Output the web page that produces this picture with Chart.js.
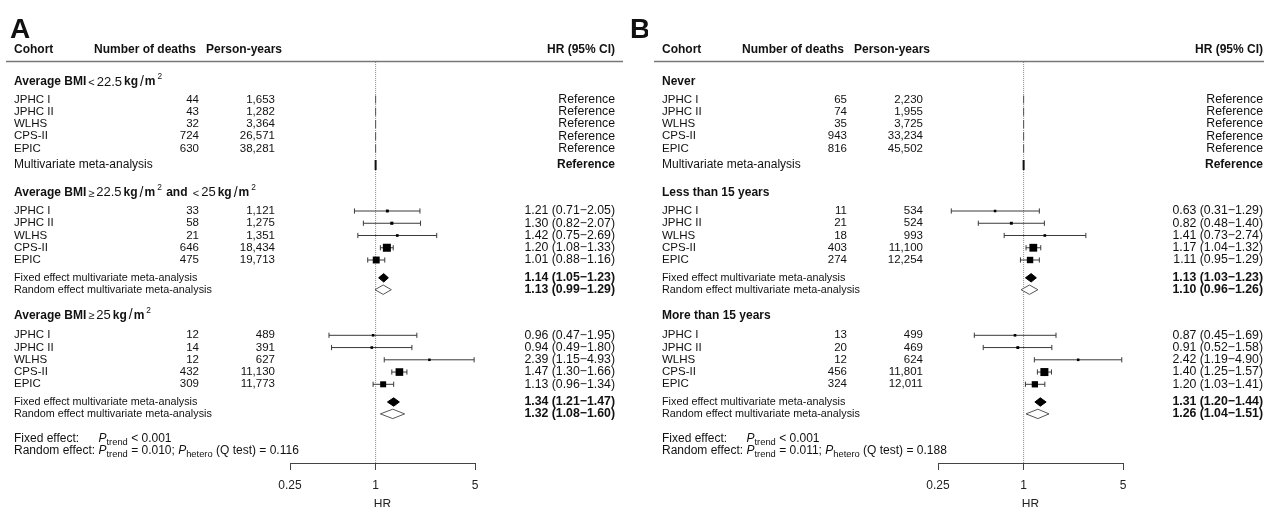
<!DOCTYPE html>
<html>
<head>
<meta charset="utf-8">
<title>Forest plot</title>
<script src="https://cdn.jsdelivr.net/npm/chart.js@4.4.1/dist/chart.umd.min.js"></script>
<style>
  html, body { margin: 0; padding: 0; background: #fff; }
  #wrap { position: relative; width: 1264px; height: 507px; overflow: hidden; }
  .panel { position: absolute; top: 0; width: 648px; height: 520px; }
  #panelA { left: 0; }
  #panelB { left: 648px; }
</style>
</head>
<body>
<div id="wrap">
  <div class="panel" id="panelA"><canvas id="forestA"></canvas></div>
  <div class="panel" id="panelB"><canvas id="forestB"></canvas></div>
</div>
<script>
// shared
const cohorts = ['JPHC I', 'JPHC II', 'WLHS', 'CPS-II', 'EPIC'];
const xTicks = [0.25, 1, 5];

// Panel A - average BMI
const headingsA = [
  [['Average BMI', 'b'], ['<', 'sym'], ['22.5', 'num'], ['kg', 'b'], ['/', 'sl'], ['m', 'b'], ['2', 'sup']],
  [['Average BMI', 'b'], ['\u2265', 'sym'], ['22.5', 'num'], ['kg', 'b'], ['/', 'sl'], ['m', 'b'], ['2', 'sup'],
   [' and ', 'b'], ['<', 'sym'], ['25', 'num'], ['kg', 'b'], ['/', 'sl'], ['m', 'b'], ['2', 'sup']],
  [['Average BMI', 'b'], ['\u2265', 'sym'], ['25', 'num'], ['kg', 'b'], ['/', 'sl'], ['m', 'b'], ['2', 'sup']]
];
const deathsA = [[44, 43, 32, 724, 630], [33, 58, 21, 646, 475], [12, 14, 12, 432, 309]];
const personYearsA = [[1653, 1282, 3364, 26571, 38281], [1121, 1275, 1351, 18434, 19713], [489, 391, 627, 11130, 11773]];
const hrA = [null, [1.21, 1.30, 1.42, 1.20, 1.01], [0.96, 0.94, 2.39, 1.47, 1.13]];
const lowerA = [null, [0.71, 0.82, 0.75, 1.08, 0.88], [0.47, 0.49, 1.15, 1.30, 0.96]];
const upperA = [null, [2.05, 2.07, 2.69, 1.33, 1.16], [1.95, 1.80, 4.93, 1.66, 1.34]];
const fixedA = [null, [1.14, 1.05, 1.23], [1.34, 1.21, 1.47]];
const randomA = [null, [1.13, 0.99, 1.29], [1.32, 1.08, 1.60]];
const pTrendRandomA = 0.010;
const pHeteroA = 0.116;

// Panel B - duration
const headingsB = [[['Never', 'b']], [['Less than 15 years', 'b']], [['More than 15 years', 'b']]];
const deathsB = [[65, 74, 35, 943, 816], [11, 21, 18, 403, 274], [13, 20, 12, 456, 324]];
const personYearsB = [[2230, 1955, 3725, 33234, 45502], [534, 524, 993, 11100, 12254], [499, 469, 624, 11801, 12011]];
const hrB = [null, [0.63, 0.82, 1.41, 1.17, 1.11], [0.87, 0.91, 2.42, 1.40, 1.20]];
const lowerB = [null, [0.31, 0.48, 0.73, 1.04, 0.95], [0.45, 0.52, 1.19, 1.25, 1.03]];
const upperB = [null, [1.29, 1.40, 2.74, 1.32, 1.29], [1.69, 1.58, 4.90, 1.57, 1.41]];
const fixedB = [null, [1.13, 1.03, 1.23], [1.31, 1.20, 1.44]];
const randomB = [null, [1.10, 0.96, 1.26], [1.26, 1.04, 1.51]];
const pTrendRandomB = 0.011;
const pHeteroB = 0.188;

const FONT = '"Liberation Sans", Arial, Helvetica, sans-serif';
const TOP = 62, AXIS = 463, CANVAS_H = 520;

// vertical layout of the rows (in px below the header rule)
function rowLayout() {
  const heading = [], cohort = [], summary = [];
  const toCohort = [17.5, 18.3, 20], toSummary = [16.5, 17.8, 17.7], toNext = [27.7, 25.6];
  let y = 82;
  for (let g = 0; g < 3; g++) {
    heading.push(y);
    y += toCohort[g];
    const c = [];
    for (let i = 0; i < cohorts.length; i++) {
      c.push(y);
      if (i < cohorts.length - 1) y += 12.25;
    }
    cohort.push(c);
    y += toSummary[g];
    const s = [y];
    if (g > 0) { y += 11.9; s.push(y); }
    summary.push(s);
    if (g < 2) y += toNext[g];
  }
  const note = [y + 24.3, y + 36.7];
  const v = a => a - TOP;
  return {
    heading: heading.map(v),
    cohort: cohort.map(c => c.map(v)),
    summary: summary.map(s => s.map(v)),
    note: note.map(v)
  };
}

const fmt2 = v => v.toFixed(2);
const hrText = (hr, lo, hi) => `${fmt2(hr)} (${fmt2(lo)}\u2212${fmt2(hi)})`;

function drawRich(ctx, segs, x, y, size, gap) {
  for (const [t, s] of segs) {
    let f = `${size}px ${FONT}`, dy = 0;
    if (s === 'b') f = `bold ${size}px ${FONT}`;
    if (s === 'i') f = `italic ${size}px ${FONT}`;
    if (s === 'num') f = `${size + 1}px ${FONT}`;
    if (s === 'sym') { f = `${size - 1}px ${FONT}`; dy = 1; }
    if (s === 'sl') f = `${size + 2}px ${FONT}`;
    if (s === 'sup') { f = `${size * 0.7}px ${FONT}`; dy = -5; }
    if (s === 'sub') { f = `${size * 0.78}px ${FONT}`; dy = 4; }
    ctx.font = f;
    ctx.fillText(t, x, y + dy);
    x += ctx.measureText(t).width + (s === 'sup' || s === 'sl' ? gap / 2 : gap);
  }
  return x;
}

function makePanel(canvasId, p) {
  const rows = rowLayout();
  const datasets = [];

  // dotted line at HR = 1
  datasets.push({
    data: [{ x: 1, y: 0 }, { x: 1, y: AXIS - TOP }],
    borderColor: '#888', borderWidth: 1, borderDash: [1, 1], pointRadius: 0, order: 6
  });
  // reference group
  datasets.push({
    data: rows.cohort[0].map(y => ({ x: 1, y })), showLine: false,
    pointStyle: 'line', pointRotation: 90, pointRadius: 4, pointBorderWidth: 1, pointBorderColor: '#555', order: 3
  });
  datasets.push({
    data: [{ x: 1, y: rows.summary[0][0] }], showLine: false,
    pointStyle: 'line', pointRotation: 90, pointRadius: 5, pointBorderWidth: 2, pointBorderColor: '#111', order: 3
  });

  // confidence intervals + boxes
  const boxes = [], boxSizes = [];
  for (let g = 1; g < 3; g++) {
    p.hr[g].forEach((hr, i) => {
      const y = rows.cohort[g][i];
      const lo = p.lower[g][i], hi = p.upper[g][i];
      datasets.push({
        data: [{ x: lo, y }, { x: hi, y }],
        borderColor: '#3a3a3a', borderWidth: 1,
        pointStyle: 'line', pointRotation: 90, pointRadius: 2.6, pointBorderWidth: 1, pointBorderColor: '#3a3a3a', order: 4
      });
      boxes.push({ x: hr, y });
      const side = Math.min(8, 1.5 + 1.5 / Math.log(hi / lo));
      boxSizes.push(side / Math.SQRT2);
    });
  }
  datasets.push({
    data: boxes, showLine: false, pointStyle: 'rect', pointRadius: boxSizes,
    pointBackgroundColor: '#000', pointBorderWidth: 0, order: 0
  });

  // summary diamonds
  const diamond = (est, lo, hi, y, h, fillColor, lineColor) => {
    datasets.push({
      data: [{ x: lo, y }, { x: est, y: y - h }, { x: hi, y }],
      borderColor: lineColor, borderWidth: 1, pointRadius: 0, order: 1
    });
    datasets.push({
      data: [{ x: lo, y }, { x: est, y: y + h }, { x: hi, y }],
      borderColor: lineColor, borderWidth: 1, pointRadius: 0, fill: '-1', backgroundColor: fillColor, order: 1
    });
  };
  for (let g = 1; g < 3; g++) {
    const [fe, fl, fh] = p.fixed[g];
    const [re, rl, rh] = p.random[g];
    diamond(fe, fl, fh, rows.summary[g][0], 4.2, '#000', '#000');
    diamond(re, rl, rh, rows.summary[g][1], 4.7, '#fff', '#555');
  }

  const textPlugin = {
    id: 'forestText',
    afterDraw(chart) {
      const ctx = chart.ctx;
      const ys = chart.scales.y;
      const Y = v => ys.getPixelForValue(v);
      ctx.save();
      ctx.fillStyle = '#111';
      ctx.textBaseline = 'alphabetic';

      // panel letters
      ctx.font = `bold 28px ${FONT}`;
      (p.letters || []).forEach(([t, x]) => ctx.fillText(t, x, 38));

      // column header
      ctx.textBaseline = 'middle';
      ctx.font = `bold 12px ${FONT}`;
      ctx.textAlign = 'left';
      ctx.fillText('Cohort', 14, 50);
      ctx.fillText('Number of deaths', 94, 50);
      ctx.fillText('Person-years', 206, 50);
      ctx.textAlign = 'right';
      ctx.fillText('HR (95% CI)', 615, 50);

      ctx.strokeStyle = '#777';
      ctx.lineWidth = 1.5;
      ctx.beginPath();
      ctx.moveTo(6, 61.5);
      ctx.lineTo(623, 61.5);
      ctx.stroke();

      for (let g = 0; g < 3; g++) {
        ctx.textAlign = 'left';
        drawRich(ctx, p.headings[g], 14, Y(rows.heading[g]), 12, 2);

        cohorts.forEach((name, i) => {
          const y = Y(rows.cohort[g][i]);
          ctx.font = `11.5px ${FONT}`;
          ctx.textAlign = 'left';
          ctx.fillText(name, 14, y);
          ctx.textAlign = 'right';
          ctx.fillText(p.deaths[g][i].toLocaleString('en-US'), 199, y);
          ctx.fillText(p.personYears[g][i].toLocaleString('en-US'), 275, y);
          ctx.font = `12.3px ${FONT}`;
          ctx.fillText(g === 0 ? 'Reference' : hrText(p.hr[g][i], p.lower[g][i], p.upper[g][i]), 615, y);
        });

        if (g === 0) {
          const y = Y(rows.summary[0][0]);
          ctx.textAlign = 'left';
          ctx.font = `12px ${FONT}`;
          ctx.fillText('Multivariate meta-analysis', 14, y);
          ctx.textAlign = 'right';
          ctx.font = `bold 12px ${FONT}`;
          ctx.fillText('Reference', 615, y);
        } else {
          const labels = ['Fixed effect multivariate meta-analysis', 'Random effect multivariate meta-analysis'];
          const est = [p.fixed[g], p.random[g]];
          labels.forEach((lab, k) => {
            const y = Y(rows.summary[g][k]);
            ctx.textAlign = 'left';
            ctx.font = `10.8px ${FONT}`;
            ctx.fillText(lab, 14, y);
            ctx.textAlign = 'right';
            ctx.font = `bold 12.3px ${FONT}`;
            ctx.fillText(hrText(est[k][0], est[k][1], est[k][2]), 615, y);
          });
        }
      }

      // p-values
      ctx.textAlign = 'left';
      ctx.font = `12px ${FONT}`;
      const pX = 14 + ctx.measureText('Random effect: ').width;
      ctx.fillText('Fixed effect:', 14, Y(rows.note[0]));
      drawRich(ctx, [['P', 'i'], ['trend', 'sub'], [' < 0.001', 'n']], pX, Y(rows.note[0]), 12, 0);
      drawRich(ctx, [['Random effect: ', 'n'], ['P', 'i'], ['trend', 'sub'], [` = ${p.pTrend.toFixed(3)}; `, 'n'],
        ['P', 'i'], ['hetero', 'sub'], [` (Q test) = ${p.pHetero.toFixed(3)}`, 'n']], 14, Y(rows.note[1]), 12, 0);
      ctx.restore();
    }
  };

  return new Chart(document.getElementById(canvasId), {
    type: 'line',
    data: { datasets },
    options: {
      responsive: true,
      maintainAspectRatio: false,
      animation: false,
      events: [],
      layout: { padding: { left: 290, right: 173, top: TOP, bottom: 0 } },
      elements: { point: { radius: 0 }, line: { tension: 0 } },
      plugins: { legend: { display: false }, tooltip: { enabled: false } },
      scales: {
        x: {
          type: 'logarithmic',
          position: 'bottom',
          min: 0.25,
          max: 5,
          afterBuildTicks: s => { s.ticks = xTicks.map(v => ({ value: v })); },
          afterFit: s => { s.height = CANVAS_H - AXIS; },
          ticks: {
            autoSkip: false, maxRotation: 0, padding: 8, color: '#222',
            font: { size: 12, family: FONT },
            callback: v => String(v)
          },
          grid: { drawOnChartArea: false, drawTicks: true, tickLength: 7, color: '#444', lineWidth: 1 },
          border: { display: true, color: '#444', width: 1 },
          title: { display: true, text: 'HR', color: '#222', font: { size: 12, family: FONT }, padding: { top: 0, bottom: 8 } }
        },
        y: { type: 'linear', display: false, reverse: true, min: 0, max: AXIS - TOP }
      }
    },
    plugins: [textPlugin]
  });
}

makePanel('forestA', {
  letters: [['A', 10], ['B', 630]],
  headings: headingsA, deaths: deathsA, personYears: personYearsA,
  hr: hrA, lower: lowerA, upper: upperA, fixed: fixedA, random: randomA,
  pTrend: pTrendRandomA, pHetero: pHeteroA
});
makePanel('forestB', {
  letters: [],
  headings: headingsB, deaths: deathsB, personYears: personYearsB,
  hr: hrB, lower: lowerB, upper: upperB, fixed: fixedB, random: randomB,
  pTrend: pTrendRandomB, pHetero: pHeteroB
});
</script>
</body>
</html>
